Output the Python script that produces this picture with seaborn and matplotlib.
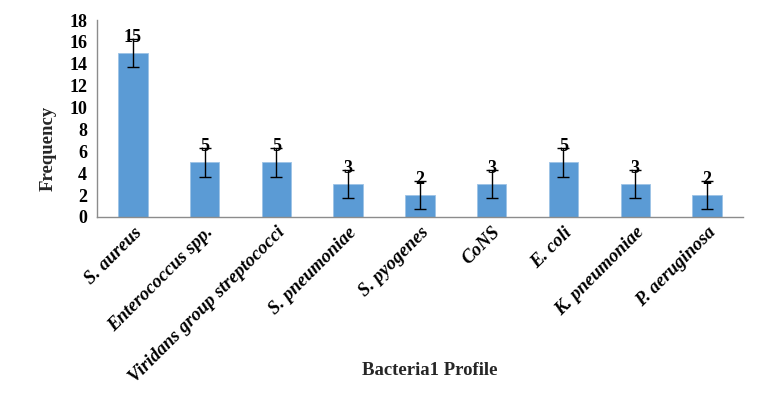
import matplotlib
matplotlib.use("Agg")
import matplotlib.pyplot as plt
import seaborn as sns
import pandas as pd
import numpy as np

categories = ["S. aureus", "Enterococcus spp.", "Viridans group streptococci",
              "S. pneumoniae", "S. pyogenes", "CoNS", "E. coli",
              "K. pneumoniae", "P. aeruginosa"]
frequency = [15, 5, 5, 3, 2, 3, 5, 3, 2]
errors = [1.3, 1.3, 1.3, 1.3, 1.3, 1.3, 1.3, 1.3, 1.3]
yticks = [0, 2, 4, 6, 8, 10, 12, 14, 16, 18]

sns.set_theme(style="white")
plt.rcParams['font.family'] = ['Liberation Serif', 'DejaVu Serif']

df = pd.DataFrame({"Bacteria": categories, "Frequency": frequency})

fig = plt.figure(figsize=(7.82, 3.98), dpi=100)
ax = fig.add_axes([0.124, 0.4548, 0.826, 0.4949])

sns.barplot(data=df, x="Bacteria", y="Frequency", color="#5B9BD5",
            width=0.41, saturation=1, ax=ax, errorbar=None)
for p in ax.patches:
    p.set_edgecolor("#9DC3E6")
    p.set_linewidth(0.6)

xpos = np.arange(len(categories))
ax.errorbar(xpos, frequency, yerr=errors, fmt="none", ecolor="black",
            elinewidth=1.0, capsize=4.5, capthick=1.0)

for x, v in zip(xpos, frequency):
    ax.text(x, v + 1.4, str(v), ha="center", va="center",
            fontsize=13, fontweight="bold", color="black")

ax.set_ylim(0, 18)
ax.set_xlim(-0.5, len(categories) - 0.5)
ax.set_yticks(yticks)
ax.set_yticklabels([str(t) for t in yticks], fontsize=13, fontweight="bold")

ax.set_xticks(xpos)
ax.set_xticklabels(categories, rotation=45, ha="right", rotation_mode="anchor",
                   fontsize=13.5, fontweight="bold", fontstyle="italic")
ax.set_xticks(np.arange(-0.5, len(categories) + 0.5, 1), minor=True)
ax.tick_params(axis="x", which="major", length=0, pad=5)
ax.tick_params(axis="x", which="minor", length=5, width=1, color="#8c8c8c", direction="out")
ax.tick_params(axis="y", which="major", length=4, width=1, color="#8c8c8c", direction="out", pad=3)
ax.tick_params(axis="both", labelcolor="black")

for s in ["top", "right"]:
    ax.spines[s].set_visible(False)
for s in ["left", "bottom"]:
    ax.spines[s].set_color("#8c8c8c")
    ax.spines[s].set_linewidth(1.0)

ax.set_ylabel("Frequency", fontsize=13.5, fontweight="bold")
ax.yaxis.set_label_coords(-0.062, 0.35)
ax.set_xlabel("Bacteria1 Profile", fontsize=13.5, fontweight="bold")
ax.xaxis.set_label_coords(0.515, -0.735)

fig.savefig("out.png", dpi=100)
